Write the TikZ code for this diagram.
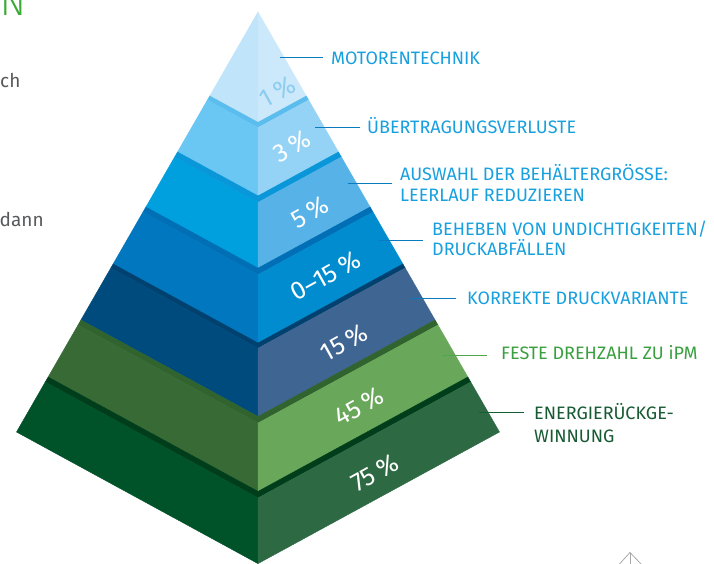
\documentclass[tikz,border=0pt]{standalone}
\usepackage{fontspec}
\setmainfont{Fira Sans}
\IfFontExistsTF{Fira Sans Light}{\newfontfamily\lightfont{Fira Sans Light}}{\newfontfamily\lightfont{Fira Sans}}
\newfontfamily\pctfont{Fira Sans}
\definecolor{topL}{HTML}{C0E4F9}
\definecolor{topR}{HTML}{CCE9FB}
\definecolor{pctTop}{HTML}{8DCDF0}
\definecolor{ldgB}{HTML}{5BBCEE}\definecolor{lftB}{HTML}{6AC6F2}\definecolor{rgtB}{HTML}{94D3F5}
\definecolor{ldgC}{HTML}{0A97D9}\definecolor{lftC}{HTML}{00A0DF}\definecolor{rgtC}{HTML}{56B2E7}
\definecolor{ldgD}{HTML}{006FB6}\definecolor{lftD}{HTML}{0077BF}\definecolor{rgtD}{HTML}{008CCF}
\definecolor{ldgE}{HTML}{00416F}\definecolor{lftE}{HTML}{004B7D}\definecolor{rgtE}{HTML}{3F6592}
\definecolor{ldgF}{HTML}{31632F}\definecolor{lftF}{HTML}{386A36}\definecolor{rgtF}{HTML}{69A85A}
\definecolor{ldgG}{HTML}{003E1B}\definecolor{lftG}{HTML}{005229}\definecolor{rgtG}{HTML}{2D6A44}
\definecolor{labBlue}{HTML}{18A0DE}
\definecolor{lineBlue}{HTML}{0B7BC0}
\definecolor{labGreen}{HTML}{3A9F3F}
\definecolor{lineGreen}{HTML}{4FA64F}
\definecolor{labDark}{HTML}{175A33}
\definecolor{lineDark}{HTML}{155D33}
\definecolor{grayText}{HTML}{58595B}
\definecolor{titleGreen}{HTML}{3AAA35}
\definecolor{iconGray}{HTML}{A8A8A8}
\newcommand{\pyrlayer}[6]{%
  \pgfmathsetmacro\pyhA{0.575*(#1-12)}\pgfmathsetmacro\pycA{#1+0.545*\pyhA}%
  \pgfmathsetmacro\pyhB{0.575*(#2-12)}\pgfmathsetmacro\pycB{#2+0.545*\pyhB}%
  \pgfmathsetmacro\pyhC{0.575*(#3-12)}\pgfmathsetmacro\pycC{#3+0.545*\pyhC}%
  \fill[#4,draw=#4,line width=0.4pt] (258-\pyhA,#1) -- (258,\pycA) -- (258+\pyhA,#1) -- (258+\pyhB,#2) -- (258,\pycB) -- (258-\pyhB,#2) -- cycle;
  \fill[#5,draw=#5,line width=0.4pt] (258-\pyhB,#2) -- (258,\pycB) -- (258,\pycC) -- (258-\pyhC,#3) -- cycle;
  \fill[#6,draw=#6,line width=0.4pt] (258+\pyhB,#2) -- (258,\pycB) -- (258,\pycC) -- (258+\pyhC,#3) -- cycle;
}
\newcommand{\pc}{\hspace{0.2em}\%}
\tikzset{
  lab/.style={anchor=base west,inner sep=0pt,font=\fontsize{18}{21}\selectfont},
  pct/.style={rotate=29,inner sep=0pt,font=\pctfont\fontsize{25.5}{26}\selectfont,text=white},
  conn/.style={line width=1pt},
  side/.style={anchor=base west,inner sep=0pt,font=\fontsize{19}{22}\selectfont,text=grayText}
}
\begin{document}
\begin{tikzpicture}[x=1pt,y=-1pt]
\useasboundingbox (0,0) rectangle (714,564);
\clip (0,0) rectangle (714,564);
% page fragments
\node[anchor=base west,inner sep=0pt,font=\lightfont\fontsize{38}{38}\selectfont,text=titleGreen] (title) at (0,16) {N};
\node[side] (frag1) at (0,88) {ch};
\node[side] (frag2) at (-0.5,226.5) {dann};
% pyramid top
\fill[topL,draw=topL,line width=0.4pt] (258,12) -- (209.7,96) -- (258,122.3) -- cycle;
\fill[topR,draw=topR,line width=0.4pt] (258,12) -- (258,122.3) -- (306.3,96) -- cycle;
\pyrlayer{96}{100}{152}{ldgB}{lftB}{rgtB}
\pyrlayer{152}{157}{207}{ldgC}{lftC}{rgtC}
\pyrlayer{207}{212}{264}{ldgD}{lftD}{rgtD}
\pyrlayer{264}{268}{320}{ldgE}{lftE}{rgtE}
\pyrlayer{320}{325}{377}{ldgF}{lftF}{rgtF}
\pyrlayer{377}{382}{432}{ldgG}{lftG}{rgtG}
% percentages
\node[pct,text=pctTop] (p1) at (277.5,91.5) {1\pc};
\node[pct] (p2) at (292,146) {3\pc};
\node[pct] (p3) at (310,212.5) {5\pc};
\node[pct] (p4) at (325.5,276) {0–15\pc};
\node[pct] (p5) at (344,342.5) {15\pc};
\node[pct] (p6) at (359,406.5) {45\pc};
\node[pct] (p7) at (375,473) {75\pc};
% labels
\node[lab,text=labBlue] (l1) at (331,64.3) {MOTORENTECHNIK};
\node[lab,text=labBlue] (l2) at (367,133.2) {ÜBERTRAGUNGSVERLUSTE};
\node[lab,text=labBlue] (l3a) at (400,181) {AUSWAHL DER BEHÄLTERGRÖSSE:};
\node[lab,text=labBlue] (l3b) at (400,201.7) {LEERLAUF REDUZIEREN};
\node[lab,text=labBlue] (l4a) at (432,235) {BEHEBEN VON UNDICHTIGKEITEN/};
\node[lab,text=labBlue] (l4b) at (432,255.7) {DRUCKABFÄLLEN};
\node[lab,text=labBlue] (l5) at (467,304) {KORREKTE DRUCKVARIANTE};
\node[lab,text=labGreen] (l6) at (501,359.5) {FESTE DREHZAHL ZU iPM};
\node[lab,text=labDark] (l7a) at (534,419.3) {ENERGIERÜCKGE-};
\node[lab,text=labDark] (l7b) at (534,442.7) {WINNUNG};
% connectors
\coordinate (c1a) at (280,58);   \coordinate (c1b) at (323,58);
\coordinate (c2a) at (315,127.3);\coordinate (c2b) at (359.5,127.3);
\coordinate (c3a) at (347.5,183.3);\coordinate (c3b) at (391.5,183.3);
\coordinate (c4a) at (379,240);  \coordinate (c4b) at (423.3,240);
\coordinate (c5a) at (411.5,298.3);\coordinate (c5b) at (456,298.3);
\coordinate (c6a) at (442,355);  \coordinate (c6b) at (487,355);
\coordinate (c7a) at (479.3,412.5);\coordinate (c7b) at (524,412.5);
\draw[conn,lineBlue] (c1a) -- (c1b);
\draw[conn,lineBlue] (c2a) -- (c2b);
\draw[conn,lineBlue] (c3a) -- (c3b);
\draw[conn,lineBlue] (c4a) -- (c4b);
\draw[conn,lineBlue] (c5a) -- (c5b);
\draw[conn,lineGreen] (c6a) -- (c6b);
\draw[conn,lineDark] (c7a) -- (c7b);
% small pyramid icon at bottom right
\coordinate (ia) at (630,552.5);
\coordinate (il) at (618.5,565);
\coordinate (ir) at (642,565);
\coordinate (ib) at (630,566);
\draw[iconGray,line width=0.8pt] (il) -- (ia) -- (ir);
\draw[iconGray,line width=0.8pt] (ia) -- (ib);
\end{tikzpicture}
\end{document}
